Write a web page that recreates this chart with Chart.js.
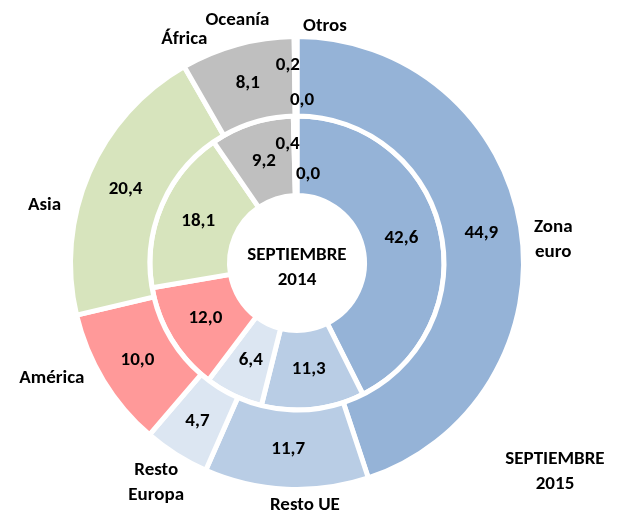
<!DOCTYPE html>
<html>
<head>
<meta charset="utf-8">
<script src="https://cdn.jsdelivr.net/npm/chart.js@4"></script>
<style>
  html, body { margin: 0; padding: 0; background: #fff; }
  #wrap { width: 626px; height: 518px; }
</style>
</head>
<body>
<div id="wrap"><canvas id="chart" width="626" height="518"></canvas></div>
<script>
const categories = ['Zona euro', 'Resto UE', 'Resto Europa', 'América', 'Asia', 'África', 'Oceanía', 'Otros'];
const sep2015 = [44.9, 11.7, 4.7, 10.0, 20.4, 8.1, 0.2, 0.0];   // outer ring
const sep2014 = [42.6, 11.3, 6.4, 12.0, 18.1, 9.2, 0.4, 0.0];   // inner ring
const colors = ['#95B3D7', '#B9CDE5', '#DCE6F2', '#FF9999', '#D7E4BD', '#BFBFBF', '#BFBFBF', '#BFBFBF'];

// category label lines + small nudges from the arc's outside anchor
const catLines = [['Zona', 'euro'], ['Resto UE'], ['Resto', 'Europa'], ['América'], ['Asia'], ['África'], ['Oceanía'], ['Otros']];
const catNudge = [[3, 18], [20, -14], [-4, 3], [-26, -18], [-17, 44], [-45, 24], [-58, 14], [28, 20]];
// the tiny slices get their values pushed apart, like Excel did
const valueNudge = { '0-6': [-8, -11], '0-7': [5, 24], '1-6': [-8, -12], '1-7': [11, 18] };

const FONT = 'bold 19px Carlito, Lato, "Liberation Sans", sans-serif';
const fmt = v => v.toFixed(1).replace('.', ',');

const labelPlugin = {
    id: 'ringLabels',
    afterDatasetsDraw(chart) {
        const ctx = chart.ctx;
        ctx.save();
        ctx.font = FONT;
        ctx.fillStyle = '#000';
        ctx.textAlign = 'center';
        ctx.textBaseline = 'middle';

        // values inside each ring
        chart.data.datasets.forEach((ds, di) => {
            const meta = chart.getDatasetMeta(di);
            meta.data.forEach((arc, i) => {
                const p = arc.tooltipPosition();
                const n = valueNudge[di + '-' + i] || [0, 0];
                ctx.fillText(fmt(ds.data[i]), p.x + n[0], p.y + n[1]);
            });
        });

        // category names outside the outer ring
        const outer = chart.getDatasetMeta(0).data;
        outer.forEach((arc, i) => {
            const mid = (arc.startAngle + arc.endAngle) / 2;
            const r = arc.outerRadius + 30;
            const x = arc.x + Math.cos(mid) * r + catNudge[i][0];
            const y = arc.y + Math.sin(mid) * r + catNudge[i][1];
            const lines = catLines[i];
            lines.forEach((t, k) => {
                ctx.fillText(t, x, y + (k - (lines.length - 1) / 2) * 25);
            });
        });

        // ring titles
        const c = outer[0];
        ctx.fillText('SEPTIEMBRE', c.x, c.y - 8);
        ctx.fillText('2014', c.x, c.y + 17);
        ctx.fillText('SEPTIEMBRE', c.x + 258, c.y + 196);
        ctx.fillText('2015', c.x + 258, c.y + 221);
        ctx.restore();
    }
};

new Chart(document.getElementById('chart'), {
    type: 'doughnut',
    data: {
        labels: categories,
        datasets: [
            { label: 'Septiembre 2015', data: sep2015, backgroundColor: colors, borderColor: '#fff', borderWidth: 5 },
            { label: 'Septiembre 2014', data: sep2014, backgroundColor: colors, borderColor: '#fff', borderWidth: 5 }
        ]
    },
    options: {
        responsive: false,
        animation: false,
        cutout: '29.8%',
        layout: { padding: { top: 34, bottom: 26, left: 0, right: 32 } },
        plugins: {
            legend: { display: false },
            tooltip: { enabled: false }
        }
    },
    plugins: [labelPlugin]
});
</script>
</body>
</html>
